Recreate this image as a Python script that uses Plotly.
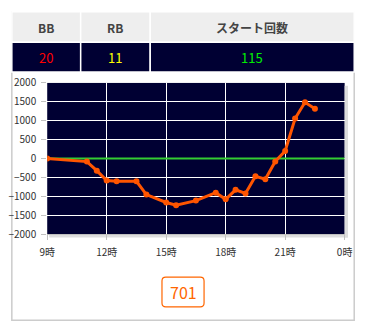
import plotly.graph_objects as go

W, H = 367, 331

# ---- data ----
hours = [9, 11, 11.5, 12, 12.5, 13.5, 14, 15, 15.5, 16.5, 17.5, 18, 18.5, 19, 19.5, 20, 20.5, 21, 21.5, 22, 22.5]
values = [0, -80, -320, -580, -600, -600, -950, -1160, -1230, -1110, -900, -1075, -825, -920, -465, -545, -75, 200, 1060, 1490, 1320]
x_tickvals = [9, 12, 15, 18, 21, 24]
x_ticktext = ["9時", "12時", "15時", "18時", "21時", "0時"]
header_labels = ["BB", "RB", "スタート回数"]
header_values = ["20", "11", "115"]
value_colors = ["#ff0000", "#ffff00", "#00ee00"]
button_label = "701"

FONT = "Noto Sans CJK JP"

def px(x):
    return x / W

def py(y):
    return 1 - y / H

# plot area pixels
L, R, T, B = 41, 352, 78.5, 237

fig = go.Figure()

fig.add_trace(go.Scatter(
    x=[9, 24], y=[0, 0], mode="lines",
    line=dict(color="#33cc33", width=2), hoverinfo="skip", showlegend=False,
))
fig.add_trace(go.Scatter(
    x=hours, y=values, mode="lines+markers",
    line=dict(color="#ff5500", width=3),
    marker=dict(color="#ff5500", size=6),
    showlegend=False,
))

shapes = []
annotations = []

# outer border
shapes.append(dict(type="rect", xref="paper", yref="paper",
                   x0=px(4), x1=px(362), y0=py(327), y1=py(4),
                   line=dict(color="#cccccc", width=1.5), fillcolor="rgba(0,0,0,0)", layer="below"))

# table
cols = [(4, 76), (76, 148.7), (148.7, 362)]
for i, (a, b) in enumerate(cols):
    shapes.append(dict(type="rect", xref="paper", yref="paper",
                       x0=px(a), x1=px(b), y0=py(36), y1=py(4),
                       line=dict(color="#ffffff", width=1.5), fillcolor="#eeeeee", layer="below"))
    shapes.append(dict(type="rect", xref="paper", yref="paper",
                       x0=px(a), x1=px(b), y0=py(67), y1=py(36),
                       line=dict(color="#ffffff", width=1.5), fillcolor="#000033", layer="below"))
    annotations.append(dict(xref="paper", yref="paper", x=px((a + b) / 2), y=py(20.5),
                            text="<b>%s</b>" % header_labels[i], showarrow=False,
                            font=dict(family=FONT, size=12, color="#444444"),
                            xanchor="center", yanchor="middle"))
    annotations.append(dict(xref="paper", yref="paper", x=px((a + b) / 2), y=py(51.5),
                            text=header_values[i], showarrow=False,
                            font=dict(family=FONT, size=13, color=value_colors[i]),
                            xanchor="center", yanchor="middle"))

# plot shadow
shapes.append(dict(type="rect", xref="paper", yref="paper",
                   x0=px(R), x1=px(R + 3.5), y0=py(B + 3.5), y1=py(T + 3),
                   line=dict(width=0), fillcolor="#dddddd", layer="below"))
shapes.append(dict(type="rect", xref="paper", yref="paper",
                   x0=px(L + 2), x1=px(R + 3.5), y0=py(B + 3.5), y1=py(B),
                   line=dict(width=0), fillcolor="#dddddd", layer="below"))

# button
shapes.append(dict(type="path", xref="paper", yref="paper",
                   path="M {x0},{y0} L {x1},{y0} Q {x1b},{y0} {x1b},{y0b} L {x1b},{y1b} Q {x1b},{y1} {x1},{y1} L {x0},{y1} Q {x0b},{y1} {x0b},{y1b} L {x0b},{y0b} Q {x0b},{y0} {x0},{y0} Z".format(
                       x0=px(165), x1=px(201), x0b=px(161), x1b=px(205),
                       y0=py(282), y1=py(313), y0b=py(286), y1b=py(309)),
                   line=dict(color="#ff6600", width=1.2), fillcolor="#ffffff"))
annotations.append(dict(xref="paper", yref="paper", x=px(183), y=py(297.5),
                        text=button_label, showarrow=False,
                        font=dict(family=FONT, size=16, color="#ff6600"),
                        xanchor="center", yanchor="middle"))

fig.update_layout(
    width=W, height=H,
    margin=dict(l=0, r=0, t=0, b=0),
    paper_bgcolor="#ffffff",
    plot_bgcolor="#000033",
    shapes=shapes,
    annotations=annotations,
    xaxis=dict(domain=[px(L), px(R)], range=[9, 24], tickvals=x_tickvals, ticktext=x_ticktext,
               showgrid=True, gridcolor="#ffffff", gridwidth=1, zeroline=False,
               showline=True, linecolor="#c0c0c0", ticks="outside", ticklen=5, tickcolor="#c0c0c0",
               ticklabelstandoff=4,
               tickfont=dict(family=FONT, size=10, color="#333333"), fixedrange=True),
    yaxis=dict(domain=[py(B), py(T)], range=[-2000, 2000], dtick=500,
               showgrid=True, gridcolor="#ffffff", gridwidth=1, zeroline=False,
               showline=False, ticks="outside", ticklen=5, tickcolor="#c0c0c0",
               ticklabelstandoff=3,
               tickfont=dict(family=FONT, size=10, color="#333333"), fixedrange=True),
    showlegend=False,
)

fig.write_html("out.html", config={"displayModeBar": False})
